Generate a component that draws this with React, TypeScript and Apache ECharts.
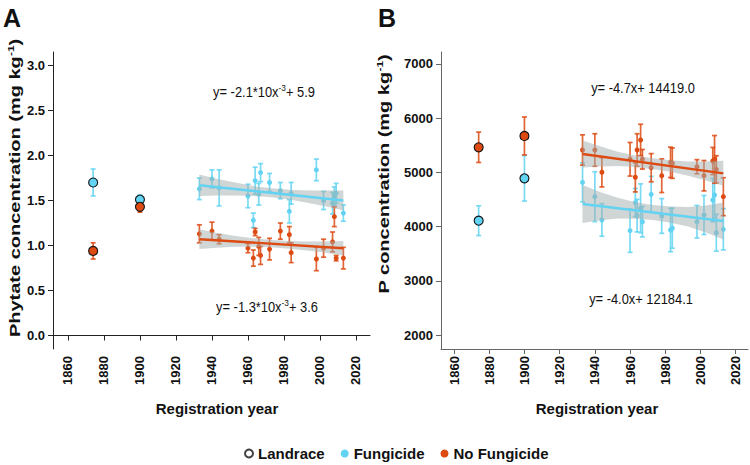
import React, { useEffect, useRef } from 'react';
import * as echarts from 'echarts';

// ---------- data ----------
const xTicks = [1860, 1880, 1900, 1920, 1940, 1960, 1980, 2000, 2020];
const yTicksA = [0, 0.5, 1, 1.5, 2, 2.5, 3];
const yTicksB = [2000, 3000, 4000, 5000, 6000, 7000];

const modernYears = [1933, 1940, 1944, 1960, 1963, 1964, 1966, 1967, 1972, 1978, 1983, 1984, 1998, 2002, 2007, 2008, 2009, 2013];
const landraceYears = [1874, 1900];

// Panel A: phytate (mg kg-1)
const phyFungMean = [1.63, 1.74, 1.64, 1.55, 1.28, 1.72, 1.57, 1.81, 1.70, 1.61, 1.38, 1.58, 1.84, 1.50, 1.47, 1.55, 1.58, 1.36];
const phyFungErr = [0.12, 0.10, 0.20, 0.13, 0.08, 0.15, 0.12, 0.10, 0.10, 0.09, 0.13, 0.12, 0.12, 0.10, 0.12, 0.10, 0.11, 0.09];
const phyNoFungMean = [1.13, 1.16, 1.07, 0.97, 0.86, 1.15, 0.99, 0.89, 0.96, 1.16, 1.12, 0.92, 0.85, 0.97, 1.04, 1.32, 0.86, 0.86];
const phyNoFungErr = [0.10, 0.10, 0.05, 0.05, 0.09, 0.04, 0.10, 0.10, 0.12, 0.09, 0.09, 0.11, 0.13, 0.10, 0.11, 0.11, 0.03, 0.12];
const phyLandFungMean = [1.70, 1.51];
const phyLandFungErr = [0.15, 0.05];
const phyLandNoFungMean = [0.94, 1.43];
const phyLandNoFungErr = [0.09, 0.06];

// Panel B: P concentration (mg kg-1)
const pFungMean = [4817, 4552, 4122, 3925, 4443, 4202, 4338, 4090, 4596, 4196, 3937, 3970, 4090, 4214, 4490, 4583, 3887, 3950];
const pFungErr = [360, 460, 300, 400, 260, 300, 450, 280, 330, 320, 400, 370, 300, 360, 400, 420, 340, 380];
const pNoFungMean = [5413, 5413, 5002, 5242, 4910, 5413, 5598, 5242, 5087, 4939, 5186, 5170, 5105, 4939, 5210, 5240, 5057, 4552];
const pNoFungErr = [280, 300, 270, 310, 270, 300, 290, 180, 260, 310, 280, 280, 130, 280, 250, 440, 250, 350];
const pLandFungMean = [4109, 4891];
const pLandFungErr = [275, 420];
const pLandNoFungMean = [5463, 5672];
const pLandNoFungErr = [280, 350];

// regression fits and confidence bands
const fitYears = [1933, 2013];
const phyFungFit = [1.67, 1.50];
const phyNoFungFit = [1.07, 0.97];
const pFungFit = [4417, 4103];
const pNoFungFit = [5340, 4983];

const bandYears = [1933, 1943, 1953, 1963, 1973, 1983, 1993, 2003, 2013];
const phyFungBandLo = [1.55, 1.555, 1.555, 1.55, 1.535, 1.51, 1.475, 1.435, 1.39];
const phyFungBandHi = [1.79, 1.74, 1.70, 1.66, 1.635, 1.62, 1.61, 1.61, 1.61];
const phyNoFungBandLo = [0.96, 0.975, 0.985, 0.985, 0.98, 0.965, 0.945, 0.92, 0.89];
const phyNoFungBandHi = [1.18, 1.14, 1.105, 1.08, 1.06, 1.05, 1.045, 1.045, 1.05];
const pFungBandLo = [4067, 4115, 4150, 4145, 4120, 4070, 4000, 3890, 3763];
const pFungBandHi = [4767, 4640, 4530, 4450, 4400, 4370, 4360, 4390, 4443];
const pNoFungBandLo = [5090, 5110, 5120, 5100, 5060, 5010, 4940, 4850, 4753];
const pNoFungBandHi = [5590, 5480, 5380, 5310, 5260, 5225, 5200, 5200, 5213];

const eqA1 = 'y= -2.1*10x{sup|-3}+ 5.9';
const eqA2 = 'y= -1.3*10x{sup|-3}+ 3.6';
const eqB1 = 'y= -4.7x+ 14419.0';
const eqB2 = 'y= -4.0x+ 12184.1';

// ---------- styles ----------
const FUNG = '#62d3f2';
const NOFUNG = '#dd4a12';
const BAND = '#a4aeae';
const FONT = '"Liberation Sans", Arial, sans-serif';

const errorRender = (color: string) => (params: any, api: any) => {
  const x = api.value(0);
  const lo = api.coord([x, api.value(1)]);
  const hi = api.coord([x, api.value(2)]);
  const cap = 2.5;
  const style = { stroke: color, lineWidth: 1.7, opacity: 0.85 };
  return {
    type: 'group',
    children: [
      { type: 'line', shape: { x1: lo[0], y1: lo[1], x2: hi[0], y2: hi[1] }, style },
      { type: 'line', shape: { x1: lo[0] - cap, y1: lo[1], x2: lo[0] + cap, y2: lo[1] }, style },
      { type: 'line', shape: { x1: hi[0] - cap, y1: hi[1], x2: hi[0] + cap, y2: hi[1] }, style },
    ],
  };
};

const errSeries = (idx: number, xs: number[], mean: number[], err: number[], color: string, z: number) => ({
  type: 'custom',
  xAxisIndex: idx,
  yAxisIndex: idx,
  renderItem: errorRender(color),
  encode: { x: 0, y: [1, 2] },
  data: xs.map((x, i) => [x, mean[i] - err[i], mean[i] + err[i]]),
  z,
  silent: true,
});

const ptSeries = (idx: number, name: string, xs: number[], mean: number[], color: string, landrace: boolean) => ({
  type: 'scatter',
  name,
  xAxisIndex: idx,
  yAxisIndex: idx,
  symbol: 'circle',
  symbolSize: landrace ? 9 : 5,
  itemStyle: landrace ? { color, borderColor: '#111', borderWidth: 1.1, opacity: 1 } : { color, opacity: 1 },
  data: xs.map((x, i) => [x, mean[i]]),
  z: landrace ? 10 : 3,
  silent: true,
});

const bandSeries = (idx: number, lo: number[], hi: number[]) => ({
  type: 'custom',
  xAxisIndex: idx,
  yAxisIndex: idx,
  encode: { x: 0, y: [1, 2] },
  data: bandYears.map((x, i) => [x, lo[i], hi[i]]),
  renderItem: (params: any, api: any) => {
    if (params.dataIndex !== 0) return null;
    const upper = bandYears.map((x, i) => api.coord([x, hi[i]]));
    const lower = bandYears.map((x, i) => api.coord([x, lo[i]])).reverse();
    return {
      type: 'polygon',
      shape: { points: upper.concat(lower) },
      style: { fill: BAND, opacity: 0.52 },
    };
  },
  z: 5,
  silent: true,
});

const fitSeries = (idx: number, fit: number[], color: string) => ({
  type: 'line',
  xAxisIndex: idx,
  yAxisIndex: idx,
  symbol: 'none',
  lineStyle: { color, width: 2.4 },
  data: fitYears.map((x, i) => [x, fit[i]]),
  z: 6,
  silent: true,
});

const xAxisCfg = (idx: number, min: number, max: number, lineColor: string) => ({
  type: 'value',
  gridIndex: idx,
  min,
  max,
  axisLine: { show: true, lineStyle: { color: lineColor, width: 1 } },
  axisTick: { show: true, customValues: xTicks, length: 5, lineStyle: { color: lineColor } },
  axisLabel: {
    customValues: xTicks,
    rotate: 90,
    margin: 7,
    color: '#111',
    fontWeight: 'bold',
    fontSize: 13,
    fontFamily: FONT,
    formatter: (v: number) => String(Math.round(v)),
  },
  splitLine: { show: false },
});

const yAxisCfg = (idx: number, min: number, max: number, ticks: number[], dec: number, lineColor: string) => ({
  type: 'value',
  gridIndex: idx,
  min,
  max,
  axisLine: { show: true, lineStyle: { color: lineColor, width: 1 } },
  axisTick: { show: true, customValues: ticks, length: 5, lineStyle: { color: lineColor } },
  axisLabel: {
    customValues: ticks,
    margin: 8,
    color: '#111',
    fontWeight: 'bold',
    fontSize: 13,
    fontFamily: FONT,
    formatter: (v: number) => v.toFixed(dec),
  },
  splitLine: { show: false },
});

const eqText = (x: number, y: number, text: string) => ({
  type: 'text',
  x,
  y,
  scaleX: 0.92,
  style: {
    text,
    fill: '#111',
    font: `14px ${FONT}`,
    align: 'center',
    verticalAlign: 'middle',
    lineHeight: 18,
    rich: { sup: { fontSize: 9, fontFamily: FONT, verticalAlign: 'top', lineHeight: 18, fill: '#111' } },
  },
});

const yTitle = (x: number, y: number, text: string) => ({
  type: 'text',
  x,
  y,
  rotation: Math.PI / 2,
  scaleY: 0.72,
  style: {
    text,
    fill: '#111',
    font: `bold 20px ${FONT}`,
    align: 'center',
    verticalAlign: 'middle',
    lineHeight: 24,
    rich: { sup: { fontSize: 12, fontWeight: 'bold', fontFamily: FONT, verticalAlign: 'top', lineHeight: 24, fill: '#111' } },
  },
});

const xTitle = (x: number, y: number) => ({
  type: 'text',
  x,
  y,
  style: {
    text: 'Registration year',
    fill: '#111',
    font: `bold 15px ${FONT}`,
    align: 'center',
    verticalAlign: 'middle',
  },
});

export default function App() {
  const ref = useRef<HTMLDivElement>(null);
  useEffect(() => {
    if (!ref.current) return;
    const chart = echarts.init(ref.current, undefined, { renderer: 'svg' });
    const option: any = {
      animation: false,
      backgroundColor: '#fff',
      textStyle: { fontFamily: FONT },
      grid: [
        { left: 53, top: 52, width: 317, height: 297 },
        { left: 441, top: 52, width: 307, height: 297 },
      ],
      xAxis: [xAxisCfg(0, 1851.7, 2027.8, '#222'), xAxisCfg(1, 1852.6, 2027, '#666')],
      yAxis: [yAxisCfg(0, -0.15, 3.15, yTicksA, 1, '#222'), yAxisCfg(1, 1742, 7221, yTicksB, 0, '#666')],
      legend: {
        left: 239,
        top: 441,
        itemWidth: 8,
        itemHeight: 8,
        itemGap: 16,
        icon: 'circle',
        data: ['Landrace', 'Fungicide', 'No Fungicide'],
        textStyle: { fontFamily: FONT, fontWeight: 'bold', fontSize: 15, color: '#111' },
        selectedMode: false,
      },
      series: [
        // legend dummy
        {
          type: 'scatter',
          name: 'Landrace',
          data: [],
          itemStyle: { color: '#fff', borderColor: '#111', borderWidth: 1 },
        },
        // Panel A
        errSeries(0, modernYears, phyFungMean, phyFungErr, FUNG, 2),
        errSeries(0, modernYears, phyNoFungMean, phyNoFungErr, NOFUNG, 2),
        ptSeries(0, 'Fungicide', modernYears, phyFungMean, FUNG, false),
        ptSeries(0, 'No Fungicide', modernYears, phyNoFungMean, NOFUNG, false),
        bandSeries(0, phyFungBandLo, phyFungBandHi),
        bandSeries(0, phyNoFungBandLo, phyNoFungBandHi),
        fitSeries(0, phyFungFit, FUNG),
        fitSeries(0, phyNoFungFit, NOFUNG),
        errSeries(0, landraceYears, phyLandFungMean, phyLandFungErr, FUNG, 8),
        errSeries(0, landraceYears, phyLandNoFungMean, phyLandNoFungErr, NOFUNG, 8),
        ptSeries(0, 'LandraceFungA', landraceYears, phyLandFungMean, FUNG, true),
        ptSeries(0, 'LandraceNoFungA', landraceYears, phyLandNoFungMean, NOFUNG, true),
        // Panel B
        errSeries(1, modernYears, pFungMean, pFungErr, FUNG, 2),
        errSeries(1, modernYears, pNoFungMean, pNoFungErr, NOFUNG, 2),
        ptSeries(1, 'Fungicide', modernYears, pFungMean, FUNG, false),
        ptSeries(1, 'No Fungicide', modernYears, pNoFungMean, NOFUNG, false),
        bandSeries(1, pFungBandLo, pFungBandHi),
        bandSeries(1, pNoFungBandLo, pNoFungBandHi),
        fitSeries(1, pFungFit, FUNG),
        fitSeries(1, pNoFungFit, NOFUNG),
        errSeries(1, landraceYears, pLandFungMean, pLandFungErr, FUNG, 8),
        errSeries(1, landraceYears, pLandNoFungMean, pLandNoFungErr, NOFUNG, 8),
        ptSeries(1, 'LandraceFungB', landraceYears, pLandFungMean, FUNG, true),
        ptSeries(1, 'LandraceNoFungB', landraceYears, pLandNoFungMean, NOFUNG, true),
      ],
      graphic: [
        { type: 'text', x: 3, y: 5, style: { text: 'A', font: `bold 25px ${FONT}`, fill: '#111' } },
        { type: 'text', x: 378, y: 5, style: { text: 'B', font: `bold 25px ${FONT}`, fill: '#111' } },
        yTitle(15, 188, 'Phytate concentration (mg kg{sup|-1})'),
        yTitle(384, 174, 'P concentration (mg kg{sup|-1})'),
        xTitle(217, 408),
        xTitle(597, 408),
        eqText(264, 92, eqA1),
        eqText(267, 307, eqA2),
        eqText(643, 88, eqB1),
        eqText(641, 299, eqB2),
      ],
    };
    chart.setOption(option);
    return () => chart.dispose();
  }, []);
  return (
    <div
      ref={ref}
      style={{ position: 'fixed', left: 0, top: 0, width: 750, height: 465, background: '#fff' }}
    />
  );
}
